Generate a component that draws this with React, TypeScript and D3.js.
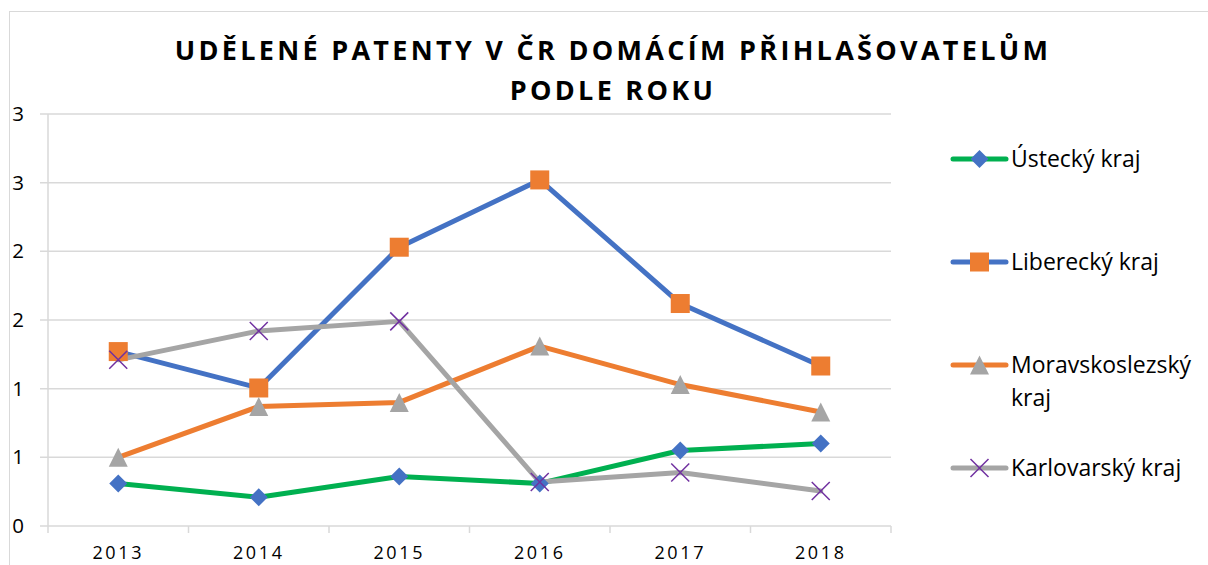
import React from "react";
import * as d3 from "d3";

const years = ["2013", "2014", "2015", "2016", "2017", "2018"];
const ustecky = [0.31, 0.21, 0.36, 0.31, 0.55, 0.6];
const liberecky = [1.27, 1.005, 2.03, 2.52, 1.62, 1.165];
const moravskoslezsky = [0.5, 0.87, 0.9, 1.31, 1.03, 0.83];
const karlovarsky = [1.21, 1.42, 1.49, 0.32, 0.39, 0.255];
const yTicks = [0, 0.5, 1, 1.5, 2, 2.5, 3];
const yTickLabels = ["0", "1", "1", "2", "2", "3", "3"];
const titleLines = ["UDĚLENÉ PATENTY V ČR DOMÁCÍM PŘIHLAŠOVATELŮM", "PODLE ROKU"];

const series = [
  { name: ["Ústecký kraj"], values: ustecky, line: "#00B050", marker: "diamond", mfill: "#4472C4" },
  { name: ["Liberecký kraj"], values: liberecky, line: "#4472C4", marker: "square", mfill: "#ED7D31" },
  { name: ["Moravskoslezský", "kraj"], values: moravskoslezsky, line: "#ED7D31", marker: "triangle", mfill: "#A5A5A5" },
  { name: ["Karlovarský kraj"], values: karlovarsky, line: "#A5A5A5", marker: "x", mfill: "#7030A0" },
];

const W = 1208;
const H = 565;
const plot = { left: 48, right: 891, top: 114, bottom: 526 };
const FONT = "Open Sans, Noto Sans, sans-serif";

function Marker({ type, x, y, fill }: { type: string; x: number; y: number; fill: string }) {
  if (type === "diamond") {
    const s = 9;
    return <path d={`M${x},${y - s}L${x + s},${y}L${x},${y + s}L${x - s},${y}Z`} fill={fill} />;
  }
  if (type === "square") {
    const s = 9.5;
    return <rect x={x - s} y={y - s} width={2 * s} height={2 * s} fill={fill} />;
  }
  if (type === "triangle") {
    const s = 9.5;
    return <path d={`M${x},${y - s}L${x + s},${y + s}L${x - s},${y + s}Z`} fill={fill} />;
  }
  const s = 9;
  return (
    <path
      d={`M${x - s},${y - s}L${x + s},${y + s}M${x - s},${y + s}L${x + s},${y - s}`}
      stroke={fill}
      strokeWidth={1.5}
      fill="none"
    />
  );
}

export default function App() {
  const x = d3.scaleBand<string>().domain(years).range([plot.left, plot.right]);
  const y = d3.scaleLinear().domain([0, 3]).range([plot.bottom, plot.top]);
  const cx = (yr: string) => (x(yr) as number) + x.bandwidth() / 2;
  const line = d3
    .line<number>()
    .x((_, i) => cx(years[i]))
    .y((d) => y(d));

  const legendRows = [159, 262, 365, 468];

  return (
    <svg width={W} height={H} style={{ position: "absolute", left: 0, top: 0 }}>
      <rect x={0} y={0} width={W} height={H} fill="#fff" />
      <rect x={9.5} y={11.5} width={W + 10} height={H + 10} fill="none" stroke="#D9D9D9" strokeWidth={1} />
      {titleLines.map((t, i) => (
        <text
          key={i}
          x={613}
          y={60 + i * 40}
          textAnchor="middle"
          fontFamily={FONT}
          fontWeight={700}
          fontSize={27}
          letterSpacing={3.3}
          fill="#000"
        >
          {t}
        </text>
      ))}
      {yTicks.map((t, i) => (
        <g key={t}>
          <line x1={40} x2={plot.right} y1={y(t)} y2={y(t)} stroke="#D9D9D9" strokeWidth={1.5} />
          <text x={18} y={y(t) + 7} textAnchor="middle" fontFamily={FONT} fontSize={20.5} fill="#000">
            {yTickLabels[i]}
          </text>
        </g>
      ))}
      <line x1={plot.left} x2={plot.left} y1={plot.top} y2={plot.bottom + 7} stroke="#D9D9D9" strokeWidth={1.5} />
      {years.map((yr) => (
        <g key={yr}>
          <line
            x1={(x(yr) as number) + x.bandwidth()}
            x2={(x(yr) as number) + x.bandwidth()}
            y1={plot.bottom}
            y2={plot.bottom + 7}
            stroke="#D9D9D9"
            strokeWidth={1.5}
          />
          <text x={cx(yr)} y={559} textAnchor="middle" fontFamily={FONT} fontSize={18} letterSpacing={2.6} fill="#000">
            {yr}
          </text>
        </g>
      ))}
      {series.map((s, si) => (
        <path
          key={"l" + si}
          d={line(s.values) as string}
          fill="none"
          stroke={s.line}
          strokeWidth={5}
          strokeLinejoin="round"
          strokeLinecap="round"
        />
      ))}
      {series.map((s, si) => (
        <g key={"m" + si}>
          {s.values.map((v, i) => (
            <Marker key={i} type={s.marker} x={cx(years[i])} y={y(v)} fill={s.mfill} />
          ))}
        </g>
      ))}
      {series.map((s, si) => (
        <g key={"lg" + si}>
          <line
            x1={953}
            x2={1006}
            y1={legendRows[si]}
            y2={legendRows[si]}
            stroke={s.line}
            strokeWidth={5}
            strokeLinecap="round"
          />
          <Marker type={s.marker} x={979.5} y={legendRows[si]} fill={s.mfill} />
          {s.name.map((n, ni) => (
            <text key={ni} x={1011} y={legendRows[si] + 8 + ni * 33} fontFamily={FONT} fontSize={23} fill="#000">
              {n}
            </text>
          ))}
        </g>
      ))}
    </svg>
  );
}
